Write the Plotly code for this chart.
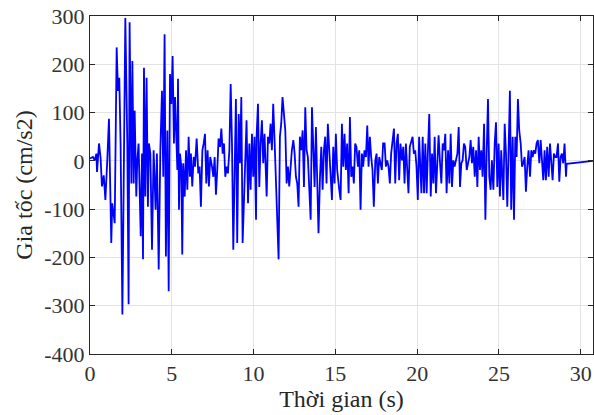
import plotly.graph_objects as go

# time (s) and acceleration (cm/s2)
t_0_5 = [0.00, 0.18, 0.29, 0.39, 0.43, 0.55, 0.65, 0.73, 0.84, 0.94, 1.06, 1.16, 1.30, 1.36,
         1.51, 1.63, 1.71, 1.79, 1.87, 1.98, 2.16, 2.28, 2.36, 2.42, 2.53, 2.59, 2.67, 2.73,
         2.83, 2.89, 2.97, 3.03, 3.10, 3.18, 3.24, 3.30, 3.38, 3.46, 3.54, 3.60, 3.69, 3.79,
         3.89, 4.01, 4.09, 4.20, 4.30, 4.40, 4.48, 4.56, 4.64, 4.73, 4.81, 4.89]
a_0_5 = [5, 8, 1, 15, -23, 36, 5, -53, -30, -81, 5, 87, -170, -88,
         -129, 235, 145, 172, 36, -318, 296, 36, -297, 287, -47, 207, -47, 104,
         -74, 1, 36, -88, -156, 15, -204, 193, -74, 172, -95, 36, 15, -184,
         22, -101, 15, -225, 22, 145, -33, 262, -198, 63, -270, 180]

t_5_10 = [4.97, 5.05, 5.13, 5.20, 5.26, 5.34, 5.38, 5.44, 5.50, 5.58, 5.64, 5.70, 5.79, 5.87,
          5.95, 6.03, 6.11, 6.17, 6.25, 6.34, 6.42, 6.52, 6.62, 6.70, 6.78, 6.87, 6.95, 7.03,
          7.11, 7.19, 7.27, 7.35, 7.46, 7.54, 7.62, 7.70, 7.78, 7.86, 7.95, 8.03, 8.11, 8.19,
          8.27, 8.35, 8.43, 8.52, 8.60, 8.68, 8.76, 8.84, 8.92, 9.00, 9.09, 9.17, 9.25, 9.33,
          9.41, 9.49, 9.57, 9.66, 9.74, 9.82, 9.90, 9.98, 10.06, 10.15]
a_5_10 = [118, 217, 36, 132, 50, -19, 170, -101, 15, -12, -194, -5, -74, 22,
          -60, 50, -33, 15, -53, 8, -12, 46, -26, -12, -95, 22, 36, 56,
          -47, 22, -53, 8, -12, -33, 8, -70, -19, 46, 29, 67, 15, 36,
          -33, -12, -26, 22, 159, 36, -184, -53, 128, -170, 97, -5, 132, -170,
          -74, 22, 84, -88, 36, -60, 56, -33, 50, -122]

t_10_15 = [10.19, 10.27, 10.35, 10.43, 10.51, 10.59, 10.67, 10.80, 10.88, 10.96, 11.04, 11.12,
           11.20, 11.29, 11.37, 11.45, 11.53, 11.61, 11.69, 11.77, 11.86, 11.94, 12.02, 12.10,
           12.18, 12.26, 12.34, 12.43, 12.51, 12.59, 12.67, 12.75, 12.83, 12.91, 13.00, 13.08,
           13.16, 13.24, 13.32, 13.40, 13.49, 13.57, 13.65, 13.73, 13.81, 13.89, 13.97, 14.06,
           14.14, 14.22, 14.30, 14.38, 14.46, 14.54, 14.63, 14.71, 14.79, 14.87, 14.95, 15.03,
           15.11]
a_10_15 = [56, 118, -54, 36, 84, -5, 56, -74, 50, 36, 77, 22,
           118, 36, -33, -115, -204, 50, 77, 132, 84, 63, -47, -12,
           -53, -12, 22, 43, 15, -33, -47, -95, 50, 22, 63, -54,
           111, 22, 8, -54, -122, 111, 22, -54, 70, -60, -150, -33,
           29, -60, 22, 50, -47, 77, 22, -54, -81, 29, -47, 56,
           -19]

t_15_20 = [15.24, 15.32, 15.40, 15.48, 15.56, 15.64, 15.72, 15.81, 15.89, 15.97, 16.05, 16.13,
           16.21, 16.29, 16.38, 16.46, 16.54, 16.62, 16.70, 16.78, 16.87, 16.95, 17.03, 17.11,
           17.19, 17.27, 17.35, 17.44, 17.52, 17.60, 17.68, 17.76, 17.84, 17.92, 18.01, 18.09,
           18.17, 18.25, 18.33, 18.41, 18.49, 18.58, 18.66, 18.74, 18.82, 18.90, 18.98, 19.07,
           19.15, 19.23, 19.31, 19.39, 19.47, 19.55, 19.64, 19.72, 19.80, 19.88, 19.96, 20.04,
           20.12]
a_15_20 = [-60, -81, 77, -12, 56, -19, 36, -67, 91, -33, -12, -47,
           36, 29, -12, 22, -101, 15, -12, 22, 8, 73, -12, 50,
           8, -19, -95, 1, 15, -47, 8, -5, -19, 36, 36, -12,
           1, -12, -47, 15, 36, 67, -47, 36, 56, -40, 36, 1,
           29, -47, 36, -5, -67, 29, 43, 50, 15, 22, -12, -81,
           50]

t_20_25 = [20.26, 20.34, 20.42, 20.50, 20.58, 20.66, 20.74, 20.83, 20.91, 20.99, 21.07, 21.15,
           21.23, 21.31, 21.40, 21.48, 21.56, 21.64, 21.72, 21.80, 21.89, 21.97, 22.05, 22.13,
           22.21, 22.29, 22.37, 22.46, 22.54, 22.62, 22.70, 22.78, 22.86, 22.94, 23.03, 23.11,
           23.19, 23.27, 23.35, 23.43, 23.52, 23.60, 23.68, 23.76, 23.84, 23.92, 24.00, 24.09,
           24.17, 24.25, 24.33, 24.41, 24.49, 24.57, 24.66, 24.74, 24.82, 24.90, 24.98, 25.06,
           25.14]
a_20_25 = [-67, 50, -67, 36, -67, 22, 97, -74, 15, -47, 50, -67,
           1, 53, -5, -47, 36, 22, 56, -67, 22, -47, 56, -54,
           1, -12, 1, 15, 70, -54, -5, 1, 36, 29, -19, -5,
           8, 43, -5, 29, -33, 22, -54, 50, -19, 22, -33, 77,
           -122, 15, 128, -33, -60, 1, -60, 36, 80, -54, 36, -74,
           22]

t_25_31 = [25.27, 25.35, 25.43, 25.51, 25.59, 25.67, 25.75, 25.84, 25.92, 26.00, 26.08, 26.16,
           26.24, 26.33, 26.41, 26.49, 26.57, 26.65, 26.73, 26.81, 26.90, 26.98, 27.06, 27.14,
           27.22, 27.30, 27.38, 27.47, 27.55, 27.63, 27.71, 27.79, 27.87, 27.95, 28.04, 28.12,
           28.20, 28.28, 28.36, 28.44, 28.52, 28.61, 28.69, 28.77, 28.85, 28.93, 29.01, 29.10,
           29.14, 30.80]
a_25_31 = [-81, 77, 15, -95, 22, 145, -101, 50, -122, 50, 8, 128,
           63, 36, -12, -5, 8, -64, -12, 22, -33, 22, 8, 22,
           15, 36, 43, -5, 43, 8, -40, 22, -40, 29, -33, 36,
           -12, -40, 15, 8, 8, 36, -43, 8, 15, -5, 36, -33,
           -6, 0]

time = t_0_5 + t_5_10 + t_10_15 + t_15_20 + t_20_25 + t_25_31
acc = a_0_5 + a_5_10 + a_10_15 + a_15_20 + a_20_25 + a_25_31

xticks = [0, 5, 10, 15, 20, 25, 30]
yticks = [-400, -300, -200, -100, 0, 100, 200, 300]
ytick_labels = ["-400", "-300", "-200", "-100", "0", "100", "200", "300"]

serif = "Liberation Serif, Times New Roman, serif"

fig = go.Figure()
fig.add_trace(go.Scatter(x=time, y=acc, mode="lines",
                         line=dict(color="#0000ff", width=1.8)))

axis_style = dict(showline=True, linecolor="#262626", linewidth=1, mirror="ticks",
                  ticks="inside", ticklen=5, tickcolor="#262626", automargin=False,
                  showgrid=True, gridcolor="#e3e3e3", gridwidth=1, zeroline=False,
                  tickfont=dict(family=serif, size=22, color="#333333"))

fig.update_layout(
    width=594, height=415,
    margin=dict(l=90, r=1, t=16, b=61),
    paper_bgcolor="white", plot_bgcolor="white",
    showlegend=False,
    font=dict(family=serif, color="#262626"),
)
fig.update_xaxes(range=[0, 30.75], tickvals=xticks, **axis_style,
                 title=dict(text="Thời gian (s)", font=dict(family=serif, size=24), standoff=0))
fig.update_yaxes(range=[-400, 300], tickvals=yticks, ticktext=ytick_labels, **axis_style,
                 title=dict(text="Gia tốc (cm/s2)", font=dict(family=serif, size=24), standoff=4))

# page has a default 8px body margin; drop it so the figure fills the window
fig.write_html("out.html", config={"displayModeBar": False},
               post_script="document.body.style.margin='0px';")
